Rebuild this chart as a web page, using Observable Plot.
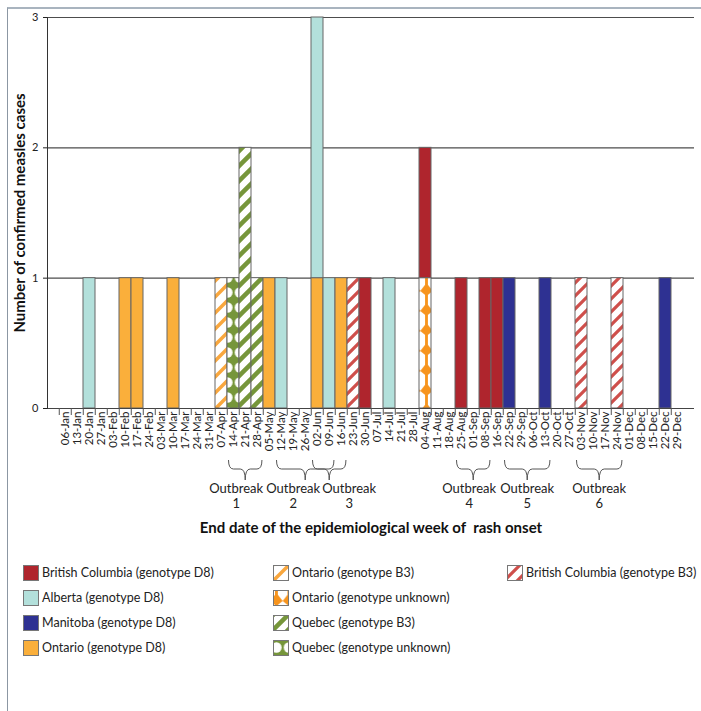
<!DOCTYPE html>
<html><head><meta charset="utf-8">
<script src="https://cdn.jsdelivr.net/npm/d3@7"></script>
<script src="https://cdn.jsdelivr.net/npm/@observablehq/plot@0.6"></script>
<style>
body{margin:0;background:#fff;font-family:Lato,sans-serif;}
#wrap{position:relative;width:701px;height:711px;overflow:hidden;background:#fff;}
#border{position:absolute;left:7px;top:7px;width:760px;height:760px;border-left:1px solid #8c97a3;border-top:2px solid #a9b4bf;}
#chart{position:absolute;left:0;top:0;}
#chart svg{overflow:visible;}
#legend{position:absolute;left:23px;top:560px;display:grid;grid-template-columns:250px 234px auto;grid-template-rows:repeat(4,25px);grid-auto-flow:column;font-size:12.5px;color:#222;}
.item{display:flex;align-items:center;white-space:nowrap;}
.item svg{margin-right:3px;flex:none;}
</style></head><body>
<div id="wrap"><div id="border"></div><div id="chart"></div><div id="legend"></div></div>
<script>
// ---- data ----
const weeks = ["06-Jan","13-Jan","20-Jan","27-Jan","03-Feb","10-Feb","17-Feb","24-Feb","03-Mar","10-Mar","17-Mar","24-Mar","31-Mar","07-Apr","14-Apr","21-Apr","28-Apr","05-May","12-May","19-May","26-May","02-Jun","09-Jun","16-Jun","23-Jun","30-Jun","07-Jul","14-Jul","21-Jul","28-Jul","04-Aug","11-Aug","18-Aug","25-Aug","01-Sep","08-Sep","16-Sep","22-Sep","29-Sep","06-Oct","13-Oct","20-Oct","27-Oct","03-Nov","10-Nov","17-Nov","24-Nov","01-Dec","08-Dec","15-Dec","22-Dec","29-Dec"];

const series = ["British Columbia (genotype D8)","Alberta (genotype D8)","Manitoba (genotype D8)","Ontario (genotype D8)","Ontario (genotype B3)","Ontario (genotype unknown)","Quebec (genotype B3)","Quebec (genotype unknown)","British Columbia (genotype B3)"];
const seriesFill = ["#AF252D","#B3E0DB","#2E3192","#FAAF3B","url(#p-onB3)","url(#p-onU)","url(#p-qcB3)","url(#p-qcU)","url(#p-bcB3)"];

const caseWeek   = ["20-Jan","10-Feb","17-Feb","10-Mar","07-Apr","14-Apr","21-Apr","28-Apr","05-May","12-May","02-Jun","02-Jun","09-Jun","16-Jun","23-Jun","30-Jun","14-Jul","04-Aug","04-Aug","25-Aug","08-Sep","16-Sep","22-Sep","13-Oct","03-Nov","24-Nov","22-Dec"];
const caseSeries = [1,3,3,3,4,7,6,6,3,1,3,1,1,3,8,0,1,5,0,0,0,0,2,2,8,8,2];
const caseCount  = [1,1,1,1,1,1,2,1,1,1,1,2,1,1,1,1,1,1,1,1,1,1,1,1,1,1,1];

const outbreakName  = ["1","2","3","4","5","6"];
const outbreakStart = ["14-Apr","12-May","02-Jun","25-Aug","22-Sep","03-Nov"];
const outbreakEnd   = ["28-Apr","09-Jun","16-Jun","08-Sep","13-Oct","24-Nov"];

const yTicks = [0,1,2,3];
const yTitle = "Number of confirmed measles cases";
const xTitle = "End date of the epidemiological week of  rash onset";

// ---- layout / style ----
const W = 701, H = 545, mL = 47, mR = 7, mT = 17, mB = H - 408;
const step = (W - mL - mR) / weeks.length;
const labelNudge = [-9, -12, 20, -4, 0, 0];

const rows = caseWeek.map((w, i) => ({week: w, series: series[caseSeries[i]], count: caseCount[i]}));
const stackOrder = series.slice().reverse();

function braces(index, scales, values, dims) {
  const g = d3.create("svg:g");
  const x = scales.x;
  const y0 = dims.height - dims.marginBottom;
  outbreakName.forEach((name, i) => {
    const x1 = x(outbreakStart[i]) + 1.5;
    const x2 = x(outbreakEnd[i]) + step - 1.5;
    const xm = (x1 + x2) / 2;
    const top = y0 + 52, mid = y0 + 61, tip = y0 + 72;
    g.append("path")
      .attr("d", `M${x1},${top}Q${x1},${mid} ${x1+5},${mid}L${xm-5},${mid}Q${xm},${mid} ${xm},${tip}Q${xm},${mid} ${xm+5},${mid}L${x2-5},${mid}Q${x2},${mid} ${x2},${top}`)
      .attr("fill", "none").attr("stroke", "#555").attr("stroke-width", 1);
    const t = g.append("text").attr("text-anchor", "middle").attr("font-size", 13).attr("fill", "#222");
    t.append("tspan").attr("x", xm + labelNudge[i]).attr("y", y0 + 85).text("Outbreak");
    t.append("tspan").attr("x", xm + labelNudge[i]).attr("y", y0 + 100).text(name);
  });
  return g.node();
}

const chart = Plot.plot({
  width: W, height: H,
  marginLeft: mL, marginRight: mR, marginTop: mT, marginBottom: mB,
  style: {fontFamily: "Lato, sans-serif", fontSize: "11px", color: "#222", background: "transparent", overflow: "visible"},
  x: {type: "band", domain: weeks, padding: 0, label: null},
  y: {domain: [0, 3], label: null},
  color: {domain: series, range: seriesFill},
  marks: [
    Plot.ruleY([1, 2, 3], {stroke: "#4d4d4d", strokeWidth: 1.2}),
    Plot.barY(rows, Plot.stackY({x: "week", y: "count", fill: "series", order: stackOrder, stroke: "#666", strokeWidth: 1})),
    Plot.ruleY([0], {stroke: "#444"}),
    Plot.frame({anchor: "left", stroke: "#333"}),
    Plot.axisY({ticks: yTicks, tickFormat: d3.format("d"), tickSize: 4, tickPadding: 5, label: null, fontSize: 11}),
    Plot.axisX({tickRotate: -90, tickSize: 0, tickPadding: 3, label: null, fontSize: 11.5}),
    Plot.axisX({tickSize: 7, tickFormat: () => "", label: null, dx: -step / 2, stroke: "#555"}),
    Plot.text([yTitle], {text: d => d, frameAnchor: "left", textAnchor: "middle", lineAnchor: "middle", rotate: -90, dx: -27, fontSize: 15, fontWeight: "bold", fill: "#111"}),
    Plot.text([xTitle], {text: d => d, frameAnchor: "bottom", textAnchor: "middle", lineAnchor: "middle", dy: 120, fontSize: 15, fontWeight: "bold", fill: "#111"}),
    braces
  ]
});

const defs = `<defs>
<pattern id="p-onB3" patternUnits="userSpaceOnUse" width="16" height="16">
  <rect width="16" height="16" fill="#fff"/>
  <path d="M-4,4L4,-4M0,16L16,0M12,20L20,12" stroke="#F9A73E" stroke-width="3.5"/>
</pattern>
<pattern id="p-qcB3" patternUnits="userSpaceOnUse" width="15" height="15">
  <rect width="15" height="15" fill="#fff"/>
  <path d="M-4,4L4,-4M0,15L15,0M11,19L19,11" stroke="#76963A" stroke-width="4.5"/>
</pattern>
<pattern id="p-bcB3" patternUnits="userSpaceOnUse" width="13" height="13">
  <rect width="13" height="13" fill="#fff"/>
  <path d="M-4,4L4,-4M0,13L13,0M9,17L17,9" stroke="#CF4F4B" stroke-width="3.2"/>
</pattern>
<pattern id="p-qcU" patternUnits="userSpaceOnUse" x="${mL}" width="${step}" height="15">
  <rect width="${step}" height="15" fill="#76963A"/>
  <circle cx="${step/2}" cy="7.5" r="5.2" fill="#fff"/>
</pattern>
<pattern id="p-onU" patternUnits="userSpaceOnUse" x="${mL}" width="${step}" height="20">
  <rect width="${step}" height="20" fill="#fff"/>
  <rect x="${step/2-1.4}" y="0" width="2.8" height="20" fill="#F7941D"/>
  <path d="M0,11L${step/2},3L${step},11L${step/2},16Z" fill="#F7941D"/>
</pattern>
</defs>`;
chart.insertAdjacentHTML("afterbegin", defs);
document.getElementById("chart").appendChild(chart);

const legend = d3.select("#legend");
series.forEach((s, i) => {
  const item = legend.append("div").attr("class", "item");
  item.append("svg").attr("width", 16).attr("height", 16)
    .append("rect").attr("x", 0.5).attr("y", 0.5).attr("width", 15).attr("height", 15)
    .attr("fill", seriesFill[i]).attr("stroke", "#777");
  item.append("span").text(s);
});
</script>
</body></html>
